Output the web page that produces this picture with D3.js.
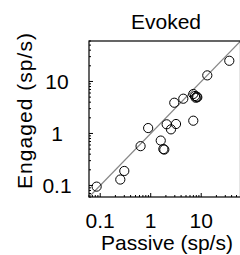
<!DOCTYPE html>
<html>
<head>
<meta charset="utf-8">
<script src="https://cdn.jsdelivr.net/npm/d3@7"></script>
<style>
  body { margin: 0; background: #fff; }
  text { font-family: "Liberation Sans", Arial, sans-serif; fill: #000; }
</style>
</head>
<body>
<svg id="canvas" width="240" height="255"></svg>
<script>
// passive vs engaged firing rates (sp/s)
const passive = [0.085, 0.25, 0.30, 0.63, 0.89, 1.58, 1.78, 1.86, 2.07, 2.52, 3.17, 2.93, 4.42, 6.97, 6.97, 7.54, 8.15, 7.78, 8.37, 13.2, 36];
const engaged = [0.095, 0.13, 0.19, 0.57, 1.27, 0.73, 0.50, 0.49, 1.50, 1.20, 1.52, 3.9, 4.66, 1.76, 5.74, 5.25, 5.09, 4.87, 4.96, 13.1, 25];
const tickValues = [0.1, 1, 10];
const tickLabels = ["0.1", "1", "10"];
const domain = [0.06, 60];

const svg = d3.select('#canvas');
const plotLeft = 89, plotTop = 41, plotBottom = 197, plotRight = 240.5;

const x = d3.scaleLog().domain(domain).range([plotLeft, plotRight]);
const y = d3.scaleLog().domain(domain).range([plotBottom, plotTop]);

// minor ticks 1..9 per decade
const minor = [];
for (let d = 0.01; d < 100; d *= 10) {
    for (let m = 1; m <= 9; m++) {
        const v = +(d * m).toPrecision(3);
        if (v >= domain[0] && v <= domain[1]) minor.push(v);
    }
}
const isMajor = v => tickValues.some(t => Math.abs(t - v) < 1e-9);

const g = svg.append('g');

// inward ticks on bottom and left
g.selectAll('line.xt').data(minor).enter().append('line')
    .attr('x1', d => x(d)).attr('x2', d => x(d))
    .attr('y1', plotBottom).attr('y2', d => plotBottom - (isMajor(d) ? 4 : 2))
    .attr('stroke', '#000').attr('stroke-width', 1);
g.selectAll('line.yt').data(minor).enter().append('line')
    .attr('y1', d => y(d)).attr('y2', d => y(d))
    .attr('x1', plotLeft).attr('x2', d => plotLeft + (isMajor(d) ? 4 : 2))
    .attr('stroke', '#000').attr('stroke-width', 1);

// unity line
g.append('line')
    .attr('x1', x(domain[0])).attr('y1', y(domain[0]))
    .attr('x2', x(domain[1])).attr('y2', y(domain[1]))
    .attr('stroke', '#888').attr('stroke-width', 1.2);

// box
g.append('rect')
    .attr('x', plotLeft).attr('y', plotTop)
    .attr('width', plotRight - plotLeft).attr('height', plotBottom - plotTop)
    .attr('fill', 'none').attr('stroke', '#000').attr('stroke-width', 1.2);

// points
g.selectAll('circle').data(passive).enter().append('circle')
    .attr('cx', d => x(d))
    .attr('cy', (d, i) => y(engaged[i]))
    .attr('r', 4.6)
    .attr('fill', 'none')
    .attr('stroke', '#000')
    .attr('stroke-width', 1);

// tick labels
svg.selectAll('text.xl').data(tickValues).enter().append('text')
    .attr('x', d => x(d)).attr('y', 228)
    .attr('text-anchor', 'middle').attr('font-size', 21)
    .text((d, i) => tickLabels[i]);
svg.selectAll('text.yl').data(tickValues).enter().append('text')
    .attr('x', 57).attr('y', d => y(d) + 7.5)
    .attr('text-anchor', 'middle').attr('font-size', 21)
    .text((d, i) => tickLabels[i]);

// titles
svg.append('text').attr('x', 166).attr('y', 29)
    .attr('text-anchor', 'middle').attr('font-size', 21).text('Evoked');
svg.append('text').attr('x', 167).attr('y', 250)
    .attr('text-anchor', 'middle').attr('font-size', 21).text('Passive (sp/s)');
svg.append('text')
    .attr('transform', 'translate(32,111) rotate(-90)')
    .attr('text-anchor', 'middle').attr('font-size', 21)
    .attr('textLength', 156).attr('lengthAdjust', 'spacing')
    .text('Engaged (sp/s)');
</script>
</body>
</html>
